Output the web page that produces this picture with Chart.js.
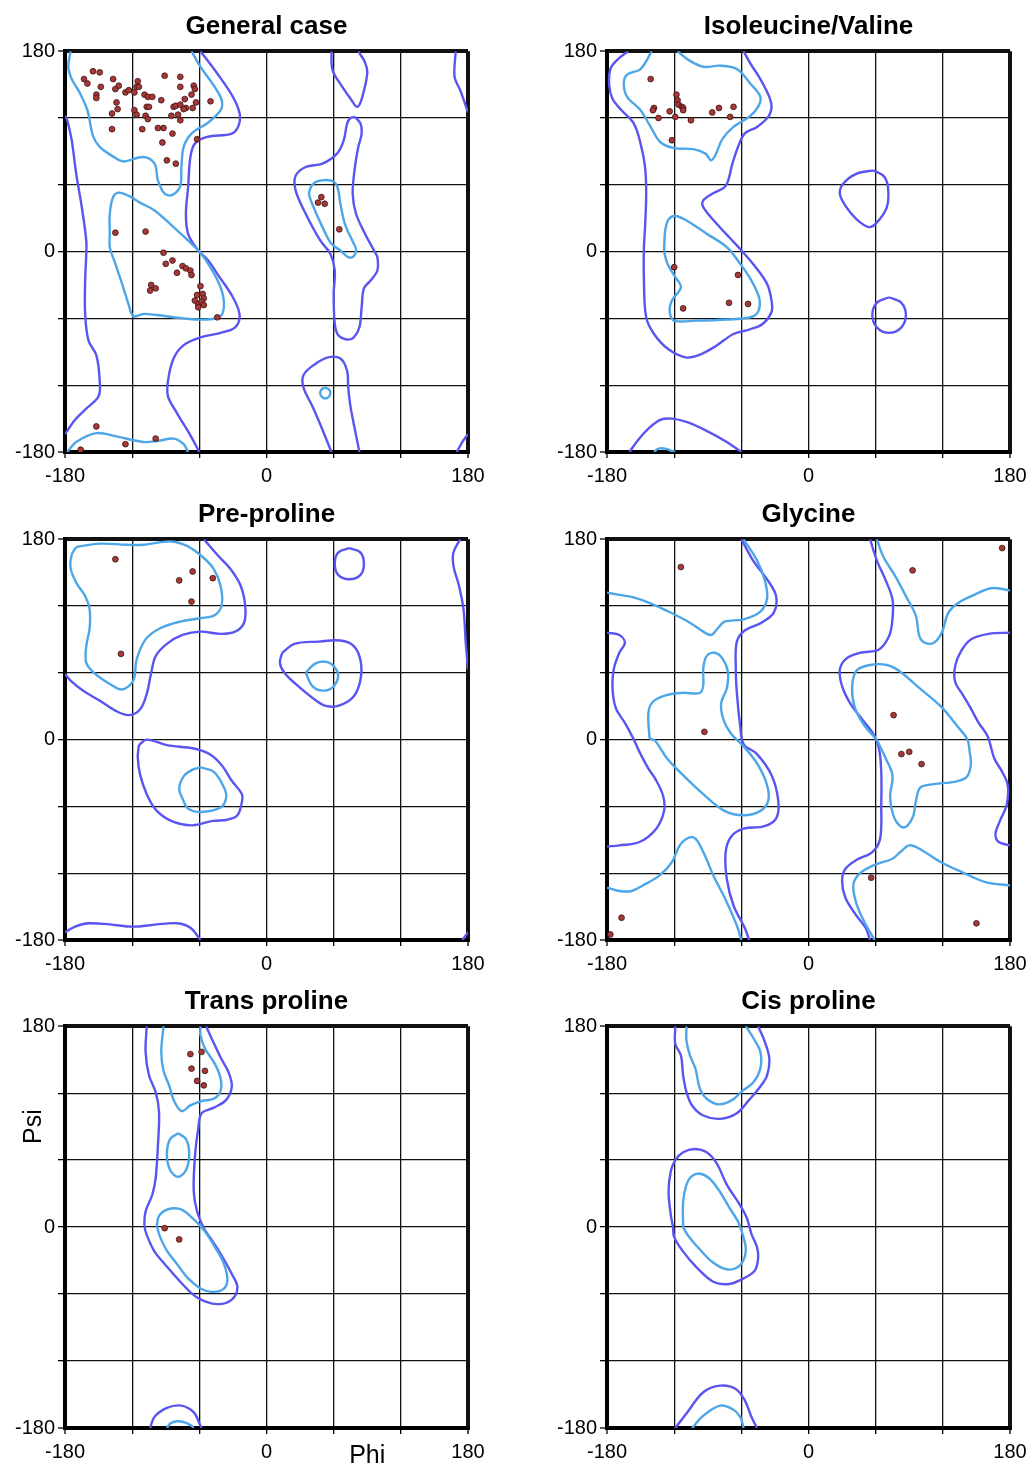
<!DOCTYPE html>
<html>
<head>
<meta charset="utf-8">
<script src="https://cdn.jsdelivr.net/npm/chart.js@4.4.0/dist/chart.umd.min.js"></script>
<style>
  html, body { margin: 0; padding: 0; background: #fff; overflow: hidden; width: 1030px; height: 1466px; }
  .panel { position: absolute; }
</style>
</head>
<body>
<div class="panel" style="left:0;top:0;width:520px;height:490px"><canvas id="c0"></canvas></div>
<div class="panel" style="left:540px;top:0;width:500px;height:490px"><canvas id="c1"></canvas></div>
<div class="panel" style="left:0;top:488px;width:520px;height:490px"><canvas id="c2"></canvas></div>
<div class="panel" style="left:540px;top:488px;width:500px;height:490px"><canvas id="c3"></canvas></div>
<div class="panel" style="left:0;top:975px;width:520px;height:491px"><canvas id="c4"></canvas></div>
<div class="panel" style="left:540px;top:975px;width:500px;height:491px"><canvas id="c5"></canvas></div>
<script>
// tick labels shown on both axes (grid every 60 degrees)
const tickLabels = [-180, 0, 180];
const titles = ["General case", "Isoleucine/Valine", "Pre-proline", "Glycine", "Trans proline", "Cis proline"];

// ---- General case ----
const generalPts = [[-163,155],[-160,151],[-155,162],[-149,161],[-148,148],[-152,141],[-152,138],[-137,155],[-135,146],[-132,149],
  [-126,143],[-123,145],[-118,143],[-115,153],[-116,148],[-114,148],[-109,141],[-106,139],[-102,139],[-94,136],[-91,158],[-77,157],
  [-77,148],[-65,149],[-64,146],[-67,141],[-73,137],[-63,134],[-50,135],[-134,134],[-133,128],[-138,124],[-118,127],[-116,123],
  [-108,122],[-106,119],[-107,130],[-105,130],[-83,130],[-81,131],[-85,122],[-79,123],[-77,132],[-72,129],[-74,128],[-66,129],
  [-77,118],[-138,110],[-111,110],[-97,111],[-92,111],[-84,106],[-93,98],[-62,101],[-89,82],[-81,79],[-135,17],[-108,18],
  [49,49],[46,44],[52,43],[65,20],[-92,-1],[-90,-11],[-84,-8],[-80,-19],[-75,-13],[-72,-15],[-68,-17],[-67,-21],[-59,-31],
  [-103,-30],[-104,-35],[-99,-33],[-62,-39],[-57,-38],[-56,-42],[-64,-44],[-61,-47],[-58,-45],[-56,-48],[-61,-50],[-44,-59],
  [-152,-157],[-126,-173],[-99,-168],[-166,-178]];
const generalOuter = [
  [[-59,180],[-44,160],[-30,139],[-24,124],[-25,113],[-31,106],[-53,103],[-64,97],[-68,85],[-70,58],[-72,34],[-70,16],[-61,1],[-52,-8],[-44,-20],[-30,-41],[-24,-57],[-28,-68],[-41,-73],[-59,-77],[-74,-84],[-83,-96],[-88,-116],[-88,-130],[-80,-145],[-68,-165],[-60,-180]],
  [[-180,122],[-178,118],[-174,100],[-170,70],[-165,40],[-161,10],[-161,-2],[-162,-26],[-162,-56],[-159,-80],[-152,-93],[-149,-116],[-150,-130],[-161,-141],[-171,-151],[-180,-164]],
  [[169,180],[168,157],[173,145],[178,131],[180,125]],
  [[170,-180],[175,-171],[180,-164]],
  [[58,180],[59,163],[67,149],[76,136],[81,130],[85,137],[90,160],[88,170],[82,180]],
  [[58,-180],[50,-160],[41,-139],[33,-122],[33,-111],[42,-102],[55,-95],[66,-96],[72,-107],[73,-122],[75,-139],[79,-160],[83,-180]],
  [[79,121],[84,115],[85,106],[82,94],[79,76],[77,52],[80,34],[88,16],[96,1],[99,-5],[99,-17],[93,-26],[87,-33],[85,-50],[83,-68],[78,-77],[72,-79],[64,-75],[61,-65],[60,-38],[61,-17],[57,-2],[48,10],[35,34],[26,55],[26,68],[35,76],[50,79],[63,88],[69,100],[72,115],[75,120],[79,121]]
];
const generalInner = [
  [[-175,180],[-177,166],[-174,155],[-167,143],[-160,127],[-155,104],[-149,94],[-138,86],[-128,81],[-110,85],[-100,79],[-97,64],[-91,52],[-84,51],[-77,59],[-76,76],[-74,94],[-67,106],[-52,116],[-41,127],[-40,136],[-47,149],[-59,166],[-67,180]],
  [[-178,-180],[-170,-171],[-152,-163],[-134,-166],[-110,-171],[-97,-170],[-83,-168],[-74,-173],[-70,-180]],
  [[-140,16],[-140,34],[-137,49],[-132,53],[-123,50],[-113,44],[-100,37],[-83,22],[-68,8],[-59,-1],[-49,-16],[-41,-32],[-38,-47],[-41,-58],[-53,-61],[-74,-60],[-98,-57],[-110,-56],[-119,-58],[-123,-48],[-129,-29],[-135,-11],[-140,4],[-140,16]],
  [[40,59],[45,63],[57,64],[63,59],[66,43],[70,25],[78,7],[80,2],[78,-4],[73,-5],[66,1],[58,7],[50,22],[42,40],[38,52],[40,59]],
  [[52,-122],[56,-124],[57,-127],[56,-130],[52,-132],[49,-130],[48,-127],[49,-124],[52,-122]]
];

// ---- Isoleucine/Valine ----
const ileValPts = [[-141,155],[-138,129],[-139,127],[-134,120],[-124,126],[-118,141],[-117,136],[-116,132],[-113,130],[-112,129],
  [-112,127],[-119,121],[-105,118],[-86,125],[-80,129],[-67,130],[-70,121],[-122,100],[-120,-14],[-63,-21],[-71,-46],[-54,-47],[-112,-51]];
const ileValOuter = [
  [[-161,180],[-170,173],[-177,164],[-178,149],[-175,137],[-167,127],[-156,115],[-150,97],[-146,76],[-145,52],[-146,22],[-147,4],[-147,-26],[-145,-59],[-138,-74],[-126,-87],[-110,-95],[-98,-93],[-83,-85],[-67,-74],[-53,-70],[-41,-65],[-33,-54],[-33,-44],[-37,-29],[-48,-13],[-59,0],[-70,12],[-82,25],[-94,40],[-94,46],[-86,52],[-74,59],[-68,79],[-63,94],[-57,106],[-46,112],[-36,121],[-33,130],[-35,139],[-43,155],[-52,169],[-58,180]],
  [[-160,-180],[-152,-169],[-143,-159],[-132,-151],[-122,-150],[-109,-153],[-91,-161],[-73,-171],[-60,-180]],
  [[58,73],[67,68],[71,58],[70,40],[61,26],[54,22],[43,29],[33,41],[28,52],[31,61],[43,70],[58,73]],
  [[72,-41],[83,-46],[87,-57],[83,-68],[72,-73],[61,-68],[57,-57],[61,-46],[72,-41]]
];
const ileValInner = [
  [[-140,180],[-150,164],[-162,159],[-165,151],[-162,139],[-150,127],[-141,112],[-132,98],[-120,93],[-103,92],[-92,88],[-87,82],[-83,87],[-77,101],[-67,112],[-53,121],[-45,130],[-43,139],[-52,151],[-64,164],[-79,167],[-94,166],[-107,172],[-117,180]],
  [[-138,-180],[-134,-177],[-128,-177],[-122,-179],[-119,-180]],
  [[-129,0],[-128,19],[-125,29],[-119,32],[-109,28],[-91,16],[-73,4],[-61,-11],[-51,-26],[-44,-42],[-45,-54],[-52,-59],[-73,-61],[-100,-62],[-120,-62],[-124,-54],[-122,-44],[-114,-32],[-119,-23],[-126,-11],[-129,0]]
];

// ---- Pre-proline ----
const preProPts = [[-135,162],[-78,143],[-66,151],[-48,145],[-67,124],[-130,77]];
const preProOuter = [
  [[-56,180],[-44,166],[-32,153],[-23,138],[-19,120],[-20,105],[-28,97],[-41,95],[-59,97],[-75,94],[-89,86],[-99,75],[-103,60],[-107,41],[-113,27],[-123,22],[-135,26],[-149,35],[-164,44],[-175,53],[-180,59]],
  [[180,63],[178,87],[176,117],[172,138],[167,156],[167,168],[173,180]],
  [[-180,-173],[-171,-168],[-159,-165],[-140,-166],[-119,-168],[-98,-166],[-80,-165],[-68,-169],[-59,-180]],
  [[175,-180],[180,-173]],
  [[-114,-5],[-107,0],[-89,-5],[-65,-8],[-51,-13],[-40,-23],[-31,-37],[-22,-49],[-22,-56],[-26,-68],[-35,-72],[-48,-73],[-66,-77],[-83,-74],[-98,-64],[-107,-49],[-113,-31],[-115,-16],[-114,-5]],
  [[74,172],[84,168],[87,158],[84,148],[74,144],[64,148],[61,158],[64,168],[74,172]],
  [[14,78],[25,86],[46,88],[66,89],[78,84],[84,71],[84,54],[78,39],[66,31],[54,30],[43,36],[26,50],[16,60],[12,69],[14,78]]
];
const preProInner = [
  [[-170,173],[-149,176],[-125,175],[-110,175],[-86,178],[-71,174],[-57,164],[-47,153],[-41,138],[-40,121],[-46,112],[-59,109],[-77,106],[-95,100],[-108,90],[-116,72],[-119,53],[-129,45],[-140,50],[-153,59],[-161,69],[-161,84],[-158,100],[-158,117],[-162,129],[-170,141],[-175,154],[-174,166],[-170,173]],
  [[-59,-25],[-47,-29],[-38,-43],[-36,-52],[-41,-61],[-59,-65],[-70,-62],[-75,-53],[-78,-44],[-74,-33],[-66,-27],[-59,-25]],
  [[35,60],[43,68],[52,70],[60,66],[64,57],[59,47],[50,44],[41,48],[35,60]]
];

// ---- Glycine ----
const glyPts = [[-114,155],[93,152],[173,172],[76,22],[-93,7],[83,-13],[90,-11],[101,-22],[56,-124],[-167,-160],[-177,-175],[150,-165]];
const glyOuter = [
  [[-60,180],[-49,160],[-37,144],[-29,129],[-31,114],[-42,105],[-57,98],[-64,88],[-65,66],[-64,42],[-61,12],[-58,-4],[-46,-13],[-33,-32],[-27,-55],[-29,-71],[-40,-78],[-58,-80],[-69,-87],[-74,-101],[-73,-125],[-67,-149],[-57,-169],[-53,-180]],
  [[-180,96],[-169,94],[-164,87],[-169,78],[-174,63],[-175,45],[-172,28],[-164,15],[-156,0],[-151,-11],[-143,-26],[-137,-35],[-130,-50],[-129,-64],[-136,-80],[-151,-92],[-169,-95],[-180,-96]],
  [[180,96],[161,95],[145,90],[136,79],[131,66],[131,52],[138,40],[145,28],[152,15],[160,3],[166,-17],[173,-29],[178,-41],[177,-59],[171,-73],[167,-85],[170,-92],[180,-95]],
  [[55,180],[61,161],[69,143],[75,126],[75,108],[72,93],[63,81],[46,78],[34,73],[28,63],[30,48],[37,33],[48,18],[58,5],[63,-8],[65,-29],[65,-59],[64,-89],[57,-101],[43,-108],[33,-116],[30,-127],[33,-142],[42,-157],[51,-169],[55,-180]]
];
const glyInner = [
  [[-58,180],[-46,161],[-39,143],[-37,127],[-43,115],[-58,108],[-75,106],[-81,100],[-87,94],[-94,97],[-106,105],[-121,113],[-140,122],[-157,128],[-169,130],[-180,132]],
  [[61,180],[67,164],[78,146],[88,127],[96,111],[99,93],[104,87],[112,87],[119,96],[125,114],[134,123],[148,130],[163,136],[180,134]],
  [[-142,1],[-143,24],[-139,34],[-127,40],[-112,42],[-97,42],[-94,49],[-94,64],[-91,75],[-84,78],[-77,73],[-72,61],[-73,46],[-78,33],[-76,18],[-69,5],[-57,-7],[-45,-23],[-37,-41],[-36,-55],[-43,-64],[-58,-68],[-75,-64],[-94,-49],[-115,-29],[-127,-16],[-137,-1],[-142,1]],
  [[-180,-133],[-169,-136],[-158,-136],[-148,-131],[-133,-122],[-122,-110],[-115,-95],[-107,-88],[-101,-89],[-94,-101],[-85,-122],[-73,-146],[-64,-167],[-60,-180]],
  [[61,0],[49,14],[41,30],[39,48],[43,62],[55,67],[70,67],[82,61],[97,48],[118,30],[133,12],[142,0],[144,-11],[145,-23],[141,-34],[130,-38],[112,-40],[100,-43],[96,-55],[93,-70],[85,-79],[77,-71],[73,-52],[75,-32],[69,-17],[61,0]],
  [[59,-180],[51,-166],[43,-148],[40,-131],[45,-121],[58,-113],[75,-107],[82,-101],[90,-95],[99,-98],[118,-110],[137,-119],[158,-128],[180,-131]]
];

// ---- Trans proline ----
const transProPts = [[-68,155],[-58,157],[-67,142],[-55,140],[-62,131],[-56,127],[-91,-1],[-78,-11]];
const transProOuter = [
  [[-107,180],[-108,157],[-105,136],[-99,121],[-96,103],[-97,73],[-99,44],[-102,29],[-108,14],[-109,1],[-107,-7],[-100,-22],[-91,-33],[-77,-49],[-62,-63],[-44,-69],[-31,-65],[-26,-54],[-31,-42],[-41,-24],[-50,-10],[-56,-1],[-62,14],[-65,32],[-64,62],[-61,88],[-58,102],[-47,107],[-36,114],[-31,126],[-34,139],[-41,152],[-49,169],[-54,180]],
  [[-104,-180],[-100,-170],[-89,-162],[-76,-160],[-65,-166],[-59,-178],[-58,-180]]
];
const transProInner = [
  [[-92,180],[-94,157],[-92,140],[-87,127],[-83,114],[-76,104],[-68,109],[-58,113],[-47,115],[-41,122],[-41,133],[-46,146],[-55,160],[-59,172],[-59,180]],
  [[-89,-180],[-86,-176],[-80,-174],[-73,-175],[-67,-178],[-65,-180]],
  [[-79,84],[-72,79],[-69,65],[-72,51],[-79,45],[-86,51],[-89,65],[-86,79],[-79,84]],
  [[-98,1],[-96,10],[-88,16],[-77,16],[-66,8],[-55,-4],[-46,-18],[-38,-33],[-35,-48],[-39,-56],[-49,-58],[-59,-55],[-70,-46],[-80,-33],[-89,-21],[-95,-9],[-98,1]]
];

// ---- Cis proline ----
const cisProPts = [];
const cisProOuter = [
  [[-119,180],[-119,164],[-114,154],[-112,136],[-109,121],[-104,109],[-94,100],[-79,97],[-64,102],[-53,114],[-43,126],[-37,136],[-35,151],[-39,166],[-45,180]],
  [[-121,0],[-123,11],[-125,32],[-123,50],[-119,60],[-112,67],[-102,70],[-91,67],[-82,57],[-73,38],[-62,21],[-55,8],[-51,-6],[-46,-18],[-45,-28],[-48,-39],[-58,-46],[-71,-51],[-85,-49],[-100,-36],[-112,-22],[-120,-9],[-121,0]],
  [[-119,-180],[-109,-167],[-94,-148],[-79,-142],[-65,-145],[-57,-155],[-51,-170],[-46,-180]]
];
const cisProInner = [
  [[-109,180],[-109,167],[-106,154],[-101,142],[-97,124],[-91,115],[-80,110],[-68,114],[-59,122],[-49,130],[-43,142],[-43,157],[-49,169],[-56,180]],
  [[-112,0],[-112,23],[-109,38],[-105,45],[-98,48],[-89,44],[-80,33],[-71,18],[-63,5],[-59,-6],[-56,-21],[-61,-34],[-72,-38],[-85,-32],[-98,-19],[-108,-7],[-112,0]],
  [[-104,-180],[-94,-169],[-79,-160],[-68,-163],[-61,-170],[-58,-180]]
];

const OUTER = '#5a55f0';
const INNER = '#4da6e8';
const FONT = '"Liberation Sans", Arial, sans-serif';

const panels = [
  { pts: generalPts, outer: generalOuter, inner: generalInner },
  { pts: ileValPts, outer: ileValOuter, inner: ileValInner },
  { pts: preProPts, outer: preProOuter, inner: preProInner },
  { pts: glyPts, outer: glyOuter, inner: glyInner },
  { pts: transProPts, outer: transProOuter, inner: transProInner, axisNames: true },
  { pts: cisProPts, outer: cisProOuter, inner: cisProInner }
];

const toXY = p => ({ x: p[0], y: p[1] });

// draws "Phi" / "Psi" next to the axes of the trans proline panel
const axisNames = {
  id: 'axisNames',
  afterDraw(chart, args, opts) {
    if (!opts.show) return;
    const { ctx, scales: { x, y } } = chart;
    ctx.save();
    ctx.fillStyle = '#000';
    ctx.font = '25px ' + FONT;
    ctx.textAlign = 'center';
    ctx.textBaseline = 'alphabetic';
    ctx.fillText('Phi', x.getPixelForValue(90), 488);
    ctx.translate(41, y.getPixelForValue(90));
    ctx.rotate(-Math.PI / 2);
    ctx.fillText('Psi', 0, 0);
    ctx.restore();
  }
};

function edgeWidth(c) {
  return Math.abs(c.tick.value) === 180 ? 4 : 1.3;
}

panels.forEach((p, i) => {
  const left = i % 2 === 0;
  const datasets = [{
    data: p.pts.map(toXY),
    pointRadius: 2.9,
    pointBackgroundColor: '#a83838',
    pointBorderColor: '#3a1414',
    pointBorderWidth: 0.8,
    showLine: false
  }];
  p.inner.forEach(seg => datasets.push({
    data: seg.map(toXY), showLine: true, borderColor: INNER, borderWidth: 2.4,
    pointRadius: 0, tension: 0.35, fill: false
  }));
  p.outer.forEach(seg => datasets.push({
    data: seg.map(toXY), showLine: true, borderColor: OUTER, borderWidth: 2.4,
    pointRadius: 0, tension: 0.35, fill: false
  }));

  new Chart(document.getElementById('c' + i), {
    type: 'scatter',
    data: { datasets },
    plugins: [axisNames],
    options: {
      responsive: true,
      maintainAspectRatio: false,
      animation: false,
      events: [],
      layout: { padding: { left: 0, right: left ? 52 : 30, top: 0, bottom: 0 } },
      plugins: {
        legend: { display: false },
        tooltip: { enabled: false },
        axisNames: { show: !!p.axisNames },
        title: {
          display: true,
          text: titles[i],
          fullSize: false,
          color: '#000',
          font: { family: FONT, size: 26, weight: 'bold', lineHeight: 1.2 },
          padding: { top: 11, bottom: 9 }
        }
      },
      scales: {
        x: {
          type: 'linear', min: -180, max: 180,
          afterFit: s => { s.height = 38; },
          ticks: {
            stepSize: 60, autoSkip: false, maxRotation: 0, color: '#000', padding: 6,
            font: { family: FONT, size: 20 },
            callback: v => tickLabels.includes(v) ? String(v) : ''
          },
          grid: { color: '#111', lineWidth: edgeWidth, tickLength: 6, tickColor: '#000', tickWidth: 1.3 },
          border: { color: '#000', width: 4 }
        },
        y: {
          type: 'linear', min: -180, max: 180,
          afterFit: s => { s.width = left ? 65 : 67; },
          ticks: {
            stepSize: 60, autoSkip: false, color: '#000', padding: 3,
            font: { family: FONT, size: 20 },
            callback: v => tickLabels.includes(v) ? String(v) : ''
          },
          grid: { color: '#111', lineWidth: edgeWidth, tickLength: 7, tickColor: '#000', tickWidth: 1.3 },
          border: { color: '#000', width: 4 }
        }
      }
    }
  });
});
</script>
</body>
</html>
